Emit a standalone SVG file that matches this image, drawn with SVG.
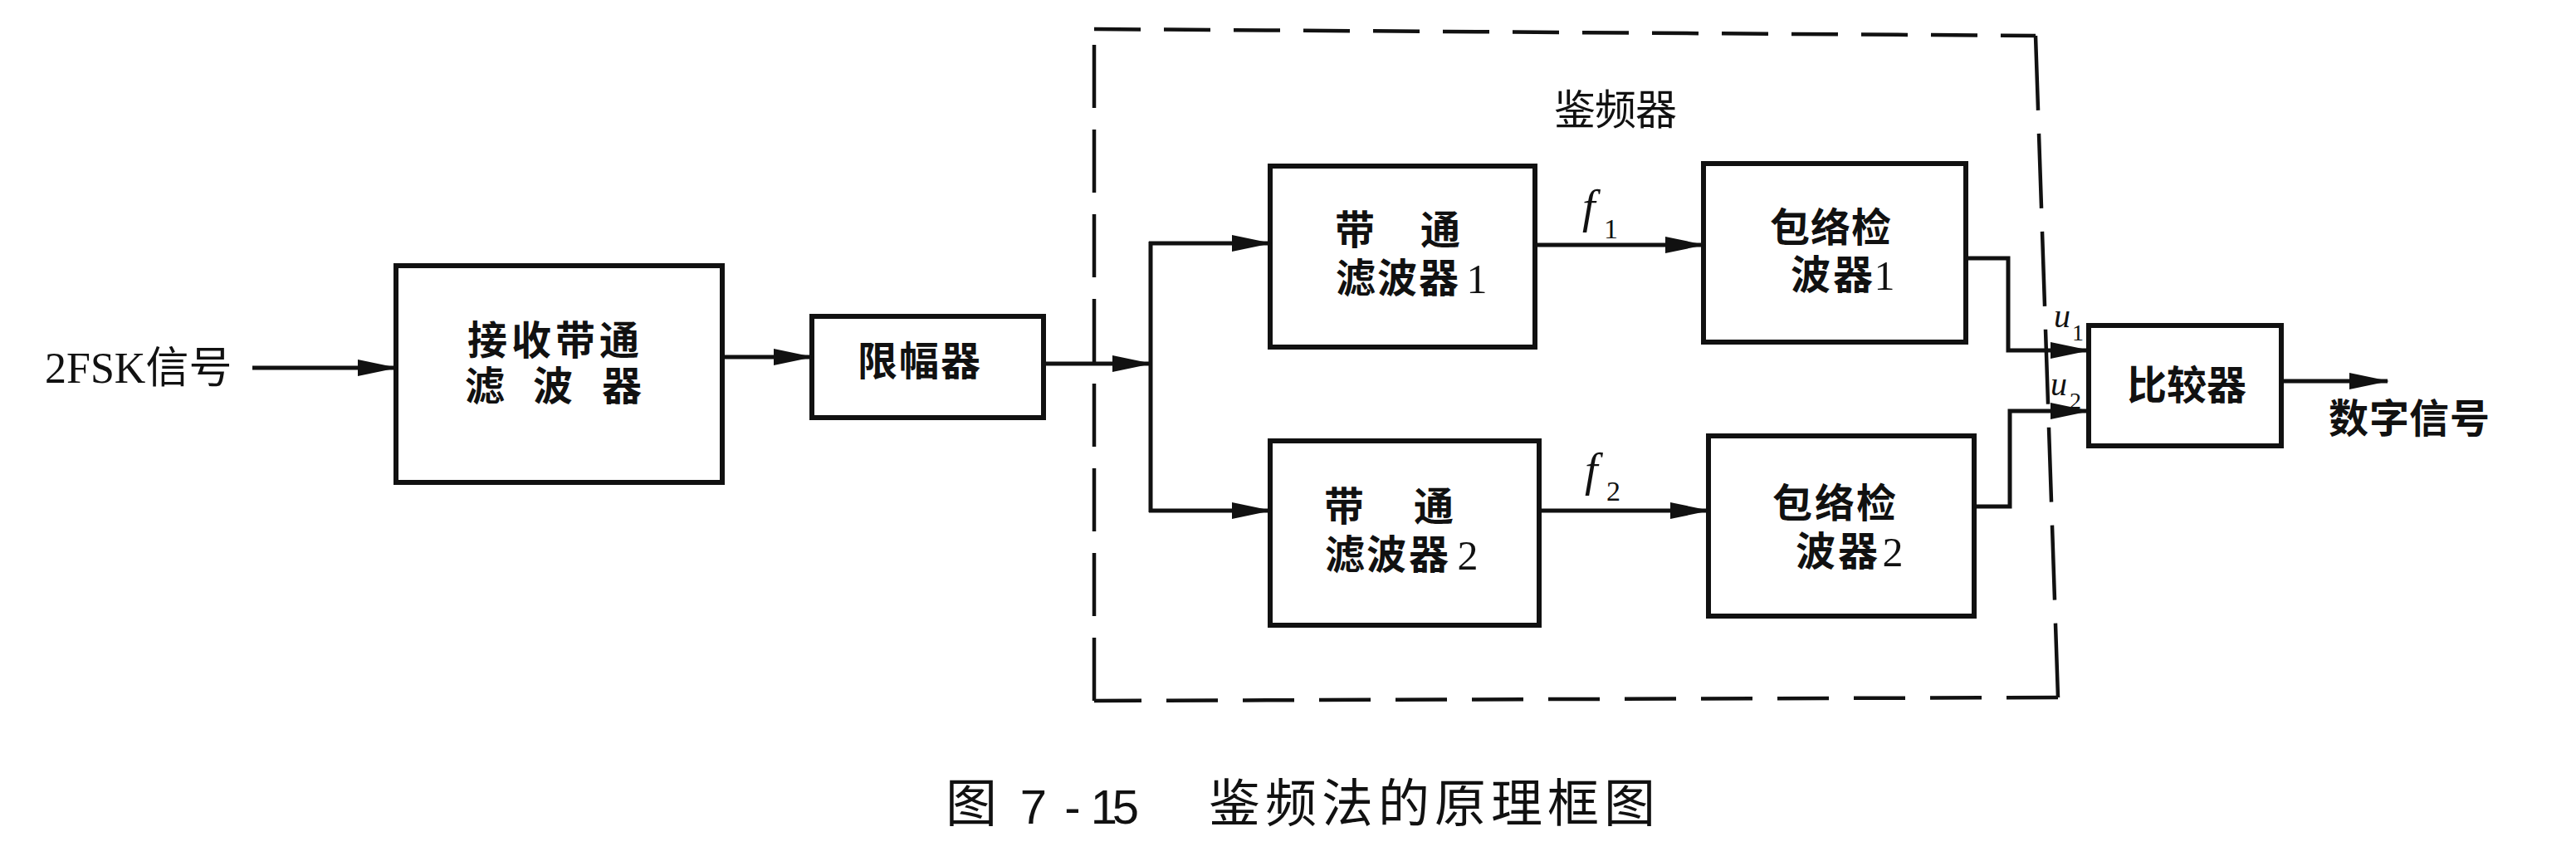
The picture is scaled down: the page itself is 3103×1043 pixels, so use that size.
<svg xmlns="http://www.w3.org/2000/svg" width="3103" height="1043" viewBox="0 0 3103 1043">
<style>
.box{fill:none;stroke:#111;stroke-width:6}
.ln{fill:none;stroke:#111;stroke-width:5}
.dash{fill:none;stroke:#111;stroke-width:4.5}
.lb{font-family:"Noto Sans CJK SC",sans-serif;font-weight:bold;font-size:48px;fill:#111;text-anchor:middle}
.dg{font-family:"Liberation Serif",serif;font-size:50px;fill:#111;text-anchor:middle}
.it{font-family:"Liberation Serif",serif;font-style:italic;fill:#111}
.sb{font-family:"Liberation Serif",serif;fill:#111}
.rg{font-family:"Noto Sans CJK SC",sans-serif;font-size:50px;fill:#111;text-anchor:middle}
.cap{font-family:"Noto Sans CJK SC",sans-serif;font-size:62px;fill:#111;text-anchor:middle}
.capd{font-family:"Liberation Sans",sans-serif;font-size:58px;fill:#111;text-anchor:middle}
</style>
<defs>
<marker id="ah" markerUnits="userSpaceOnUse" markerWidth="48" markerHeight="20" refX="46" refY="10" orient="auto">
<path d="M0,0 L48,10 L0,20 z" fill="#111"/>
</marker>
</defs>
<rect width="3103" height="1043" fill="#fff"/>

<g id="discriminator-frame">
<line class="dash" x1="1318" y1="35" x2="2452" y2="43" stroke-dasharray="56 28"/>
<line class="dash" x1="2452" y1="43" x2="2479" y2="840" stroke-dasharray="90 28"/>
<line class="dash" x1="2479" y1="840" x2="1318" y2="844" stroke-dasharray="62 30"/>
<line class="dash" x1="1318" y1="844" x2="1318" y2="35" stroke-dasharray="76 26"/>
<text class="rg" x="1897 1946 1995" y="150">鉴频器</text>
</g>

<g id="input-label">
<text x="54" y="461" font-size="52" fill="#111"><tspan font-family="Liberation Serif, serif">2FSK</tspan><tspan font-family="Noto Sans CJK SC, sans-serif">信号</tspan></text>
</g>

<g id="rx-bpf">
<rect class="box" x="477" y="320" width="393" height="261"/>
<text class="lb" x="587 640 693 746" y="427">接收带通</text>
<text class="lb" x="584 666 749" y="482">滤波器</text>
</g>

<g id="limiter">
<rect class="box" x="978" y="381" width="279" height="122"/>
<text class="lb" x="1057 1107 1157" y="452">限幅器</text>
</g>

<g id="bpf1">
<rect class="box" x="1530" y="200" width="319" height="218"/>
<text class="lb" x="1632 1735" y="294">带通</text>
<text class="lb" x="1633 1683 1733" y="352">滤波器</text>
<text class="dg" x="1779" y="353">1</text>
</g>

<g id="bpf2">
<rect class="box" x="1530" y="531" width="324" height="222"/>
<text class="lb" x="1619 1727" y="627">带通</text>
<text class="lb" x="1620 1670 1721" y="685">滤波器</text>
<text class="dg" x="1768" y="686">2</text>
</g>

<g id="env1">
<rect class="box" x="2052" y="197" width="316" height="215"/>
<text class="lb" x="2156 2205 2254" y="291">包络检</text>
<text class="lb" x="2181 2232" y="348">波器</text>
<text class="dg" x="2270" y="349">1</text>
</g>

<g id="env2">
<rect class="box" x="2058" y="525" width="320" height="217"/>
<text class="lb" x="2159 2210 2260" y="623">包络检</text>
<text class="lb" x="2187 2238" y="681">波器</text>
<text class="dg" x="2280" y="682">2</text>
</g>

<g id="comparator">
<rect class="box" x="2516" y="392" width="232" height="145"/>
<text class="lb" x="2586 2634 2682" y="481">比较器</text>
</g>

<g id="output-label">
<text class="lb" x="2829 2878 2926 2975" y="521">数字信号</text>
</g>

<g id="connectors">
<line class="ln" x1="304" y1="443" x2="477" y2="443" marker-end="url(#ah)"/>
<line class="ln" x1="870" y1="430" x2="978" y2="430" marker-end="url(#ah)"/>
<line class="ln" x1="1257" y1="438" x2="1386" y2="438" marker-end="url(#ah)"/>
<line class="ln" x1="1386" y1="291" x2="1386" y2="617"/>
<line class="ln" x1="1384" y1="293" x2="1530" y2="293" marker-end="url(#ah)"/>
<line class="ln" x1="1384" y1="615" x2="1530" y2="615" marker-end="url(#ah)"/>
<line class="ln" x1="1849" y1="295" x2="2052" y2="295" marker-end="url(#ah)"/>
<line class="ln" x1="1854" y1="615" x2="2058" y2="615" marker-end="url(#ah)"/>
<polyline class="ln" points="2368,311 2419,311 2419,422 2516,422" marker-end="url(#ah)"/>
<polyline class="ln" points="2378,610 2421,610 2421,495 2516,495" marker-end="url(#ah)"/>
<line class="ln" x1="2748" y1="459" x2="2876" y2="459" marker-end="url(#ah)"/>
</g>

<g id="signal-labels">
<text class="it" x="1906" y="268" font-size="56">f</text>
<text class="sb" x="1932" y="287" font-size="34">1</text>
<text class="it" x="1909" y="585" font-size="56">f</text>
<text class="sb" x="1935" y="603" font-size="34">2</text>
<text class="it" x="2474" y="394" font-size="40">u</text>
<text class="sb" x="2496" y="410" font-size="28">1</text>
<text class="it" x="2470" y="476" font-size="40">u</text>
<text class="sb" x="2493" y="492" font-size="28">2</text>
</g>

<g id="caption">
<text class="cap" x="1170" y="990">图</text>
<text class="capd" x="1245 1292 1330 1356" y="992">7-15</text>
<text class="cap" x="1487 1555 1623 1691 1759 1827 1895 1963" y="990">鉴频法的原理框图</text>
</g>
</svg>
